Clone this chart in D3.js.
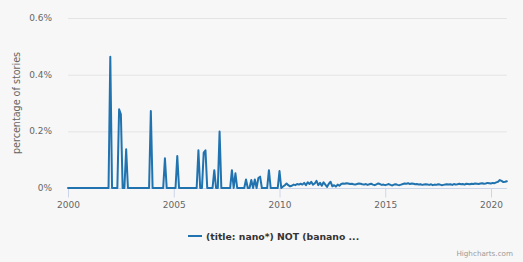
<!DOCTYPE html>
<html>
<head>
<meta charset="utf-8">
<script src="https://cdn.jsdelivr.net/npm/d3@7"></script>
<style>
  html, body { margin: 0; padding: 0; background: #f7f7f7; }
  svg { display: block; font-family: "DejaVu Sans", Verdana, sans-serif; }
</style>
</head>
<body>
<svg id="chart" width="523" height="262"></svg>
<script>
// Monthly series starting January 2000 (percentage of stories)
const startYear = 2000;
const seriesName = "(title: nano*) NOT (banano ...";
const values = [
  // 2000
  0,0,0,0,0,0,0,0,0,0,0,0,
  // 2001
  0,0,0,0,0,0,0,0,0,0,0,0,
  // 2002
  0.463,0,0,0,0,0.278,0.26,0,0,0.137,0,0,
  // 2003
  0,0,0,0,0,0,0,0,0,0,0,0.272,
  // 2004
  0,0,0,0,0,0,0,0.105,0,0,0,0,
  // 2005
  0,0,0.113,0,0,0,0,0,0,0,0,0,
  // 2006
  0,0,0.133,0,0,0.125,0.133,0,0,0,0,0.063,
  // 2007
  0,0,0.199,0,0,0,0,0,0,0.063,0,0.052,
  // 2008
  0,0,0,0,0,0.03,0,0,0.028,0,0.03,0,
  // 2009
  0.035,0.04,0,0,0,0,0.063,0,0,0,0,0,
  // 2010
  0.06,0,0.005,0.01,0.016,0.01,0.006,0.008,0.012,0.01,0.014,0.012,
  // 2011
  0.015,0.012,0.018,0.01,0.02,0.014,0.022,0.012,0.016,0.025,0.01,0.018,
  // 2012
  0.008,0.02,0.012,0.004,0.015,0.022,0.006,0.01,0.005,0.012,0.008,0.014,
  // 2013
  0.016,0.015,0.017,0.016,0.014,0.015,0.013,0.012,0.014,0.016,0.015,0.013,
  // 2014
  0.012,0.014,0.011,0.013,0.015,0.012,0.010,0.013,0.016,0.014,0.011,0.012,
  // 2015
  0.010,0.012,0.014,0.011,0.009,0.012,0.013,0.011,0.010,0.012,0.014,0.016,
  // 2016
  0.015,0.017,0.014,0.016,0.015,0.013,0.014,0.012,0.013,0.011,0.012,0.013,
  // 2017
  0.012,0.011,0.013,0.010,0.012,0.011,0.013,0.012,0.010,0.011,0.012,0.013,
  // 2018
  0.012,0.013,0.011,0.014,0.012,0.013,0.015,0.013,0.014,0.012,0.015,0.014,
  // 2019
  0.013,0.015,0.014,0.016,0.015,0.014,0.016,0.017,0.015,0.016,0.018,0.017,
  // 2020
  0.016,0.018,0.017,0.020,0.022,0.028,0.025,0.021,0.022,0.024
];
const xTicks = [2000, 2005, 2010, 2015, 2020];
const yTicks = [0, 0.2, 0.4, 0.6];
const yTitle = "percentage of stories";
const credit = "Highcharts.com";

const data = values.map((v, i) => ({ t: startYear + i / 12, v }));

const svg = d3.select("#chart");
const plotLeft = 68, plotTop = 18, plotBottom = 188;
const lastT = data[data.length - 1].t;
const x = d3.scaleLinear().domain([startYear, lastT]).range([plotLeft, plotLeft + (lastT - startYear) * 21.15]);
const y = d3.scaleLinear().domain([0, 0.6]).range([plotBottom, plotTop]);
const plotRight = x.range()[1];

svg.append("rect").attr("width", 523).attr("height", 262).attr("fill", "#f7f7f7");

// gridlines
svg.append("g").selectAll("line").data(yTicks.filter(d => d > 0)).join("line")
  .attr("x1", plotLeft).attr("x2", plotRight)
  .attr("y1", d => y(d) + 0.5).attr("y2", d => y(d) + 0.5)
  .attr("stroke", "#e4e4e4").attr("stroke-width", 1);

// y labels
svg.append("g").selectAll("text").data(yTicks).join("text")
  .attr("x", 52).attr("y", d => y(d) + 3)
  .attr("text-anchor", "end")
  .attr("font-size", 9).attr("fill", "#666")
  .text(d => d === 0 ? "0%" : d3.format(".1f")(d) + "%");

// y title
svg.append("text")
  .attr("transform", `translate(20,${(plotTop + plotBottom) / 2}) rotate(-90)`)
  .attr("text-anchor", "middle")
  .attr("font-size", 9.6).attr("fill", "#666")
  .text(yTitle);

// x axis
const xAxis = d3.axisBottom(x).tickValues(xTicks).tickFormat(d3.format("d")).tickSize(9).tickPadding(4);
const gx = svg.append("g").attr("transform", `translate(0,${plotBottom + 0.5})`).call(xAxis);
gx.select(".domain").attr("stroke", "#ccd6eb").attr("d", `M${plotLeft},0H${plotRight}`);
gx.selectAll(".tick line").attr("stroke", "#ccd6eb");
gx.selectAll(".tick text").attr("fill", "#666").attr("font-size", 9)
  .attr("font-family", "DejaVu Sans, Verdana, sans-serif");

// series line
const line = d3.line().x(d => x(d.t)).y(d => y(d.v));
svg.append("path").datum(data)
  .attr("d", line)
  .attr("fill", "none")
  .attr("stroke", "#2173b0")
  .attr("stroke-width", 2)
  .attr("stroke-linejoin", "round")
  .attr("stroke-linecap", "round");

// legend
svg.append("line").attr("x1", 188).attr("x2", 202).attr("y1", 236).attr("y2", 236)
  .attr("stroke", "#2173b0").attr("stroke-width", 2);
svg.append("text").attr("x", 206).attr("y", 239.5)
  .attr("font-size", 9.3).attr("font-weight", "bold").attr("fill", "#333")
  .text(seriesName);

// credit
svg.append("text").attr("x", 513).attr("y", 256)
  .attr("text-anchor", "end").attr("font-size", 7.2).attr("fill", "#999")
  .text(credit);
</script>
</body>
</html>
